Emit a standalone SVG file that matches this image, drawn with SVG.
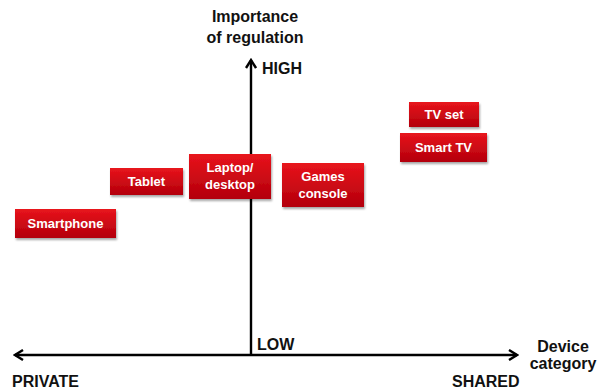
<svg xmlns="http://www.w3.org/2000/svg" width="603" height="392" viewBox="0 0 603 392">
<defs>
<linearGradient id="red" x1="0" y1="0" x2="0" y2="1">
<stop offset="0" stop-color="#e8141c"/>
<stop offset="1" stop-color="#b3000c"/>
</linearGradient>
<filter id="sh" x="-10%" y="-10%" width="130%" height="140%">
<feDropShadow dx="1" dy="2" stdDeviation="1.2" flood-color="#000" flood-opacity="0.35"/>
</filter>
<marker id="arr" viewBox="0 0 12 12" refX="10" refY="6" markerWidth="12" markerHeight="12" markerUnits="userSpaceOnUse" orient="auto">
<path d="M2,1 L10,6 L2,11" fill="none" stroke="#000" stroke-width="2.4"/>
</marker>
</defs>
<style>
.box{fill:url(#red);filter:url(#sh)}
.bt{font-family:"Liberation Sans",Arial,sans-serif;font-weight:bold;font-size:13px;fill:#fff;text-anchor:middle}
.lab{font-family:"Liberation Sans",Arial,sans-serif;font-weight:bold;font-size:16px;fill:#111}
.mid{text-anchor:middle}
.axis{stroke:#000;stroke-width:2.4;fill:none}
</style>
<rect width="603" height="392" fill="#fff"/>
<g id="connectors">
<line class="axis" x1="251" y1="355" x2="251" y2="60" marker-end="url(#arr)"/>
<line class="axis" x1="251" y1="355" x2="517" y2="355" marker-end="url(#arr)"/>
<line class="axis" x1="251" y1="355" x2="15" y2="355" marker-end="url(#arr)"/>
</g>
<g id="labels">
<text class="lab mid" x="255" y="22">Importance</text>
<text class="lab mid" x="255" y="43">of regulation</text>
<text class="lab" x="262" y="74">HIGH</text>
<text class="lab" x="257" y="350">LOW</text>
<text class="lab" x="12" y="387">PRIVATE</text>
<text class="lab" x="452" y="387">SHARED</text>
<text class="lab mid" x="563" y="352">Device</text>
<text class="lab mid" x="563" y="369">category</text>
</g>
<g id="tvset"><rect class="box" x="409" y="102" width="70" height="25"/><text class="bt" x="444" y="119">TV set</text></g>
<g id="smarttv"><rect class="box" x="400" y="133" width="87" height="29"/><text class="bt" x="443.5" y="152">Smart TV</text></g>
<g id="tablet"><rect class="box" x="110" y="168" width="73" height="27"/><text class="bt" x="146.5" y="186">Tablet</text></g>
<g id="laptop"><rect class="box" x="189" y="154" width="82" height="45"/><text class="bt" x="230" y="172">Laptop/</text><text class="bt" x="230" y="189">desktop</text></g>
<g id="games"><rect class="box" x="282" y="163" width="82" height="44"/><text class="bt" x="323" y="181">Games</text><text class="bt" x="323" y="198">console</text></g>
<g id="smartphone"><rect class="box" x="15" y="209" width="101" height="29"/><text class="bt" x="65.5" y="228">Smartphone</text></g>
</svg>
